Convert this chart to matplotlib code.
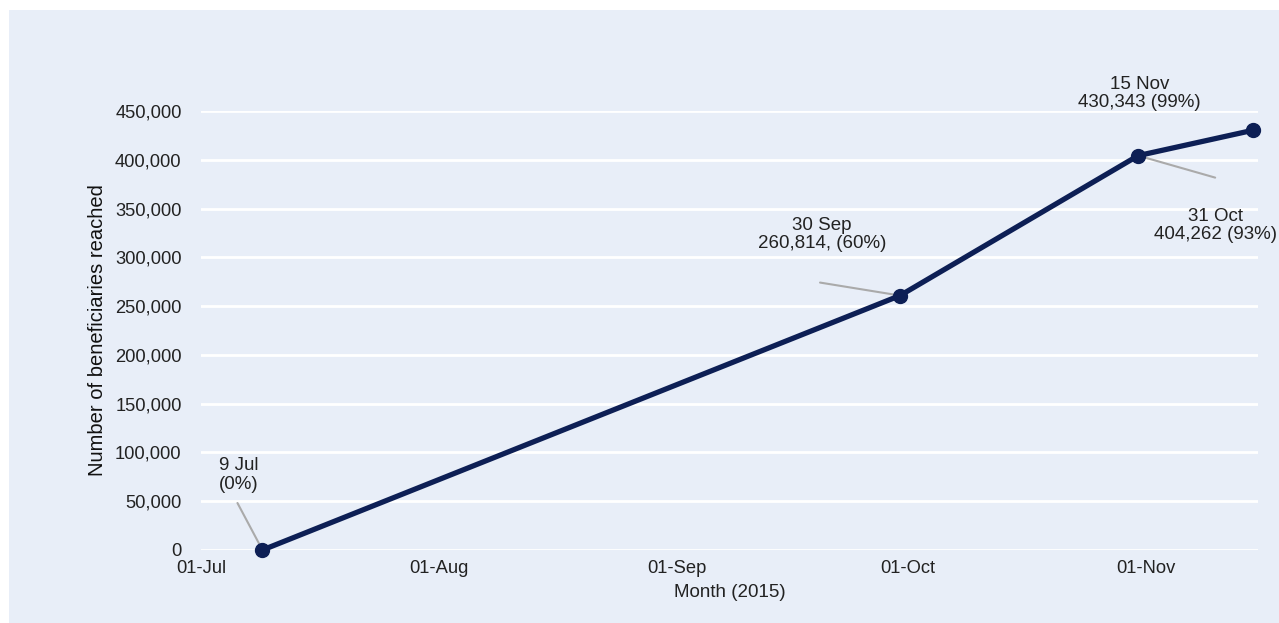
import matplotlib.pyplot as plt
import matplotlib.dates as mdates
from matplotlib.patches import Rectangle
from matplotlib.ticker import FuncFormatter
import numpy as np

plt.rcParams['font.family'] = ['Liberation Sans', 'DejaVu Sans']

dates = np.array(['2015-07-09', '2015-09-30', '2015-10-31', '2015-11-15'], dtype='datetime64[D]')
reached = [0, 260814, 404262, 430343]
point_labels = ['9 Jul\n(0%)', '30 Sep\n260,814, (60%)', '31 Oct\n404,262 (93%)', '15 Nov\n430,343 (99%)']
tick_dates = np.array(['2015-07-01', '2015-08-01', '2015-09-01', '2015-10-01', '2015-11-01'], dtype='datetime64[D]')

bg = '#E8EEF8'
navy = '#0D1F55'

fig = plt.figure(figsize=(12.79, 6.23), dpi=100, facecolor='white')
fig.patches.append(Rectangle((9 / 1279, 0), 1 - 9 / 1279, 1 - 10 / 623,
                             transform=fig.transFigure, facecolor=bg, edgecolor='none', zorder=-10))

ax = fig.add_axes([201 / 1279, 73 / 623, 1057 / 1279, 439 / 623])
ax.set_facecolor(bg)
ax.patch.set_alpha(0)

x = mdates.date2num(dates.astype('datetime64[s]').tolist())
ax.plot(x, reached, color=navy, lw=3.8, marker='o', ms=10, solid_capstyle='round',
        clip_on=False, zorder=3)

ax.set_ylim(0, 450000)
ax.set_yticks(np.arange(0, 450001, 50000))
ax.yaxis.set_major_formatter(FuncFormatter(lambda v, p: f'{int(v):,}'))
ax.grid(axis='y', color='white', lw=2)
ax.set_axisbelow(True)

xt = mdates.date2num(tick_dates.astype('datetime64[s]').tolist())
ax.set_xlim(xt[0], xt[0] + 137.6)
ax.set_xticks(xt)
ax.set_xticklabels([mdates.num2date(t).strftime('%d-%b') for t in xt])

for s in ax.spines.values():
    s.set_visible(False)
ax.tick_params(length=0, labelsize=13.2, colors='#222222')
ax.tick_params(axis='y', pad=14)
ax.tick_params(axis='x', pad=7)

ax.set_ylabel('Number of beneficiaries reached', fontsize=14.5, color='#111111', labelpad=6)
ax.set_xlabel('Month (2015)', fontsize=13.5, color='#222222', labelpad=5)

# callouts: text offset and leader line start, both in pixels from the point
offsets = [(-24, 75), (-78, 61), (77, -70), (-114, 37)]
leaders = [(-25, 47), (-80, 13), (77, -22), None]
for xi, yi, lab, off, ld in zip(x, reached, point_labels, offsets, leaders):
    ax.annotate(lab, (xi, yi), xytext=off, textcoords='offset pixels',
                ha='center', va='center', fontsize=13.5, linespacing=1.1,
                color='#222222', zorder=4)
    if ld is not None:
        ax.annotate('', (xi, yi), xytext=ld, textcoords='offset pixels',
                    arrowprops=dict(arrowstyle='-', color='#AAAAAA', lw=1.5,
                                    shrinkA=0, shrinkB=0), zorder=2)

fig.savefig('out.png', dpi=100, facecolor='white')
